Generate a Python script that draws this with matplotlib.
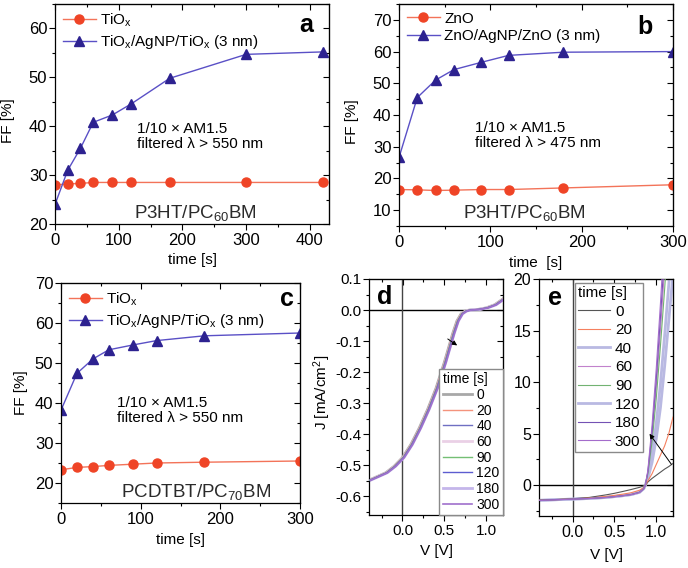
import numpy as np
import matplotlib
matplotlib.use('Agg')
import matplotlib.pyplot as plt
from matplotlib.ticker import MultipleLocator

plt.rcParams['font.family'] = ['Liberation Sans', 'DejaVu Sans']
plt.rcParams['mathtext.fontset'] = 'custom'
plt.rcParams['mathtext.rm'] = 'Liberation Sans'
plt.rcParams['mathtext.it'] = 'Liberation Sans:italic'
plt.rcParams['mathtext.bf'] = 'Liberation Sans:bold'
plt.rcParams['axes.unicode_minus'] = False

# ---- panel a: P3HT/PC60BM, TiOx ----
TIME_A = [0, 20, 40, 60, 90, 120, 180, 300, 420]
FF_A_TIOX = [28.0, 28.2, 28.3, 28.5, 28.5, 28.5, 28.5, 28.5, 28.5]
FF_A_AGNP = [24.0, 31.0, 35.5, 40.8, 42.3, 44.6, 49.8, 54.7, 55.2]

# ---- panels b, c ----
TIME_BC = [0, 20, 40, 60, 90, 120, 180, 300]
FF_B_ZNO = [16.5, 16.4, 16.2, 16.3, 16.5, 16.5, 17.0, 18.0]
FF_B_AGNP = [26.6, 45.5, 51.0, 54.3, 56.6, 58.8, 59.8, 60.0]
FF_C_TIOX = [23.3, 23.9, 24.1, 24.4, 24.7, 25.0, 25.2, 25.5]
FF_C_AGNP = [38.2, 47.4, 51.0, 53.3, 54.5, 55.6, 56.8, 57.5]

# ---- panel d: J-V under filtered light ----
TIMES = ['0', '20', '40', '60', '90', '120', '180', '300']
V_D = [-0.4, -0.3, -0.2, -0.1, 0.0, 0.1, 0.2, 0.3, 0.4, 0.5, 0.6, 0.65, 0.7,
       0.75, 0.8, 0.9, 1.0, 1.1, 1.2]
J_D = [-0.548, -0.536, -0.524, -0.503, -0.475, -0.433, -0.38, -0.32, -0.252,
       -0.168, -0.075, -0.035, -0.012, -0.003, 0.0, 0.002, 0.007, 0.017, 0.036]
V_SHIFT_D = [0.0, 0.004, 0.008, 0.010, 0.013, 0.016, 0.018, 0.021]

# ---- panel e: J-V full range ----
V_E = [-0.4, -0.2, 0.0, 0.2, 0.4, 0.5, 0.6, 0.7, 0.8, 0.85, 0.87,
       0.9, 0.95, 1.0, 1.05, 1.1, 1.15, 1.2]
J_E_0 = [-1.45, -1.40, -1.33, -1.20, -0.95, -0.80, -0.62, -0.43, -0.22, -0.08, 0.0,
         0.3, 0.65, 0.95, 1.25, 1.55, 1.8, 2.1]
J_E_20 = [-1.47, -1.41, -1.35, -1.26, -1.10, -1.00, -0.88, -0.74, -0.50, -0.25, 0.0,
          0.4, 1.1, 2.0, 2.9, 3.8, 5.0, 6.6]
J_E_40 = [-1.48, -1.42, -1.36, -1.30, -1.20, -1.12, -1.03, -0.92, -0.70, -0.35, 0.0,
          0.6, 2.2, 4.5, 7.5, 11.5, 16.0, 20.5]
J_E_60 = [-1.48, -1.42, -1.36, -1.30, -1.20, -1.12, -1.03, -0.92, -0.70, -0.35, 0.0,
          1.2, 4.8, 9.5, 15.0, 21.0, 27.0, 33.0]
J_E_90 = [-1.48, -1.42, -1.36, -1.30, -1.20, -1.12, -1.03, -0.92, -0.70, -0.35, 0.0,
          1.1, 4.2, 8.4, 13.5, 19.0, 25.0, 31.0]
J_E_120 = [-1.48, -1.42, -1.36, -1.30, -1.20, -1.12, -1.03, -0.92, -0.70, -0.35, 0.0,
           0.8, 3.0, 6.0, 9.8, 14.5, 19.5, 25.0]
J_E_180 = [-1.48, -1.42, -1.36, -1.30, -1.20, -1.12, -1.03, -0.92, -0.70, -0.35, 0.0,
           1.3, 5.2, 10.3, 16.3, 22.5, 29.0, 35.0]
J_E_300 = [-1.49, -1.43, -1.37, -1.31, -1.21, -1.13, -1.04, -0.93, -0.72, -0.36, 0.0,
           1.45, 5.8, 11.3, 17.6, 24.5, 31.0, 38.0]
J_E = [J_E_0, J_E_20, J_E_40, J_E_60, J_E_90, J_E_120, J_E_180, J_E_300]

# styles
RED = '#ef4426'
RED_LINE = '#f37359'
BLUE = '#2d2290'
BLUE_LINE = '#5a50c6'
D_COLORS = ['#a8a8a8', '#f4937c', '#6f6fc2', '#ead0e6', '#74bf74', '#5c5cd0', '#c4b6ea', '#a070cc']
D_WIDTHS = [2.0, 1.0, 1.0, 2.0, 1.0, 1.0, 2.0, 1.2]
E_COLORS = ['#555555', '#f5805f', '#b9b9e2', '#c282cc', '#72b372', '#b9b9e2', '#7452b4', '#a46ccb']
E_WIDTHS = [0.8, 0.8, 2.0, 0.8, 0.8, 2.0, 0.8, 0.8]

W, H = 688, 568


def _rect(left, top, right, bottom):
    return [left / W, 1 - bottom / H, (right - left) / W, (bottom - top) / H]


def _origin_ticks(ax, xmaj, xmin, ymaj, ymin, labelsize=12):
    ax.xaxis.set_major_locator(MultipleLocator(xmaj))
    ax.xaxis.set_minor_locator(MultipleLocator(xmin))
    ax.yaxis.set_major_locator(MultipleLocator(ymaj))
    ax.yaxis.set_minor_locator(MultipleLocator(ymin))
    ax.tick_params(which='both', direction='out', top=False, right=False,
                   labelsize=labelsize, width=0.8)
    ax.tick_params(axis='x', which='major', length=4, pad=2.5)
    ax.tick_params(axis='y', which='major', length=4, pad=1.5)
    ax.tick_params(which='minor', length=2.5)
    # mirrored axes with inward ticks
    sx = ax.secondary_xaxis('top')
    sx.xaxis.set_major_locator(MultipleLocator(xmaj))
    sx.xaxis.set_minor_locator(MultipleLocator(xmin))
    sx.tick_params(which='both', direction='in', labeltop=False, width=0.8)
    sx.tick_params(which='major', length=4)
    sx.tick_params(which='minor', length=2.5)
    sy = ax.secondary_yaxis('right')
    sy.yaxis.set_major_locator(MultipleLocator(ymaj))
    sy.yaxis.set_minor_locator(MultipleLocator(ymin))
    sy.tick_params(which='both', direction='in', labelright=False, width=0.8)
    sy.tick_params(which='major', length=4)
    sy.tick_params(which='minor', length=2.5)
    for sp in ax.spines.values():
        sp.set_linewidth(0.9)


def _ff_panel(ax, t, ff_ref, ff_ag, lab_ref, lab_ag):
    ax.plot(t, ff_ref, '-', color=RED_LINE, lw=1.0, marker='o', ms=6.5,
            mfc=RED, mec=RED, label=lab_ref)
    ax.plot(t, ff_ag, '-', color=BLUE_LINE, lw=1.0, marker='^', ms=7,
            mfc=BLUE, mec=BLUE, label=lab_ag)
    ax.legend(loc='upper left', bbox_to_anchor=(0.0, 1.0), frameon=False,
              fontsize=11, handlelength=2.2, handletextpad=0.25,
              labelspacing=0.25, borderaxespad=0.2, borderpad=0.3)


fig = plt.figure(figsize=(W / 100, H / 100), dpi=100)

# ---------- a ----------
ax = fig.add_axes(_rect(55, 4, 329, 224))
_ff_panel(ax, TIME_A, FF_A_TIOX, FF_A_AGNP, r'TiO$_\mathrm{x}$',
          r'TiO$_\mathrm{x}$/AgNP/TiO$_\mathrm{x}$ (3 nm)')
ax.set_xlim(0, 430)
ax.set_ylim(20, 65)
_origin_ticks(ax, 100, 50, 10, 5)
ax.set_xlabel('time [s]', fontsize=11)
ax.xaxis.set_label_coords(0.5, -0.13)
ax.set_ylabel('FF [%]', fontsize=11)
ax.yaxis.set_label_coords(-0.145, 0.47)
ax.text(0.30, 0.465, '1/10 \u00d7 AM1.5\nfiltered \u03bb > 550 nm', transform=ax.transAxes,
        fontsize=11, va='top', ha='left', linespacing=1.1)
ax.text(0.511, 0.027, r'P3HT/PC$_\mathrm{60}$BM', transform=ax.transAxes,
        fontsize=13.5, ha='center', va='baseline', color='#2a2a2a')
ax.text(0.916, 0.905, 'a', transform=ax.transAxes, fontsize=18, fontweight='bold',
        ha='center', va='center')

# ---------- b ----------
ax = fig.add_axes(_rect(399, 4, 673, 226))
_ff_panel(ax, TIME_BC, FF_B_ZNO, FF_B_AGNP, 'ZnO', 'ZnO/AgNP/ZnO (3 nm)')
ax.set_xlim(0, 300)
ax.set_ylim(5, 75)
_origin_ticks(ax, 100, 50, 10, 5)
ax.set_xlabel('time  [s]', fontsize=11)
ax.xaxis.set_label_coords(0.5, -0.135)
ax.set_ylabel('FF [%]', fontsize=11)
ax.yaxis.set_label_coords(-0.145, 0.47)
ax.text(0.277, 0.475, '1/10 \u00d7 AM1.5\nfiltered \u03bb > 475 nm', transform=ax.transAxes,
        fontsize=11, va='top', ha='left', linespacing=1.1)
ax.text(0.459, 0.036, r'P3HT/PC$_\mathrm{60}$BM', transform=ax.transAxes,
        fontsize=13.5, ha='center', va='baseline', color='#2a2a2a')
ax.text(0.898, 0.896, 'b', transform=ax.transAxes, fontsize=18, fontweight='bold',
        ha='center', va='center')

# ---------- c ----------
ax = fig.add_axes(_rect(61, 283, 300, 503))
_ff_panel(ax, TIME_BC, FF_C_TIOX, FF_C_AGNP, r'TiO$_\mathrm{x}$',
          r'TiO$_\mathrm{x}$/AgNP/TiO$_\mathrm{x}$ (3 nm)')
ax.set_xlim(0, 300)
ax.set_ylim(15, 70)
_origin_ticks(ax, 100, 50, 10, 5)
ax.set_xlabel('time [s]', fontsize=11)
ax.xaxis.set_label_coords(0.5, -0.136)
ax.set_ylabel('FF [%]', fontsize=11)
ax.yaxis.set_label_coords(-0.138, 0.5)
ax.text(0.234, 0.485, '1/10 \u00d7 AM1.5\nfiltered \u03bb > 550 nm', transform=ax.transAxes,
        fontsize=11, va='top', ha='left', linespacing=1.1)
ax.text(0.565, 0.026, r'PCDTBT/PC$_\mathrm{70}$BM', transform=ax.transAxes,
        fontsize=13.5, ha='center', va='baseline', color='#2a2a2a')
ax.text(0.946, 0.927, 'c', transform=ax.transAxes, fontsize=18, fontweight='bold',
        ha='center', va='center')

# ---------- d ----------
ax = fig.add_axes(_rect(369, 279, 503, 515))
ax.axhline(0, color='black', lw=1.0, zorder=1)
ax.axvline(0, color='#444444', lw=1.0, zorder=1)
vd = np.array(V_D)
for lab, dv, c, lw in zip(TIMES, V_SHIFT_D, D_COLORS, D_WIDTHS):
    ax.plot(vd + dv, J_D, color=c, lw=lw, label=lab, zorder=3 if lw < 1.5 else 2)
ax.set_xlim(-0.4, 1.2)
ax.set_ylim(-0.66, 0.1)
_origin_ticks(ax, 0.5, 0.25, 0.1, 0.05, labelsize=11)
ax.set_xlabel('V [V]', fontsize=11)
ax.xaxis.set_label_coords(0.505, -0.122)
ax.set_ylabel('J [mA/cm$^2$]', fontsize=11)
ax.yaxis.set_label_coords(-0.27, 0.52)
ax.annotate('', xy=(0.68, -0.119), xytext=(0.513, -0.088),
            arrowprops=dict(arrowstyle='-|>', color='black', lw=0.7,
                            mutation_scale=7))
ax.text(0.119, 0.924, 'd', transform=ax.transAxes, fontsize=18, fontweight='bold',
        ha='center', va='center')
leg = ax.legend(loc='lower right', bbox_to_anchor=(1.0, 0.0), fontsize=10,
                title='time [s]', title_fontsize=10, alignment='left',
                handlelength=2.1, handletextpad=0.3, labelspacing=0.12,
                borderpad=0.25, borderaxespad=0.0, fancybox=False,
                edgecolor='#8a8a8a', framealpha=1.0)
leg.get_frame().set_linewidth(1.0)

# ---------- e ----------
ax = fig.add_axes(_rect(539, 279, 673, 516))
ax.axhline(0, color='black', lw=1.0, zorder=1)
ax.axvline(0, color='#444444', lw=1.0, zorder=1)
for lab, j, c, lw in zip(TIMES, J_E, E_COLORS, E_WIDTHS):
    ax.plot(V_E, j, color=c, lw=lw, label=lab, zorder=3 if lw < 1.5 else 2)
ax.set_xlim(-0.4, 1.2)
ax.set_ylim(-3, 20)
_origin_ticks(ax, 0.5, 0.25, 5, 2.5, labelsize=11.5)
ax.set_xlabel('V [V]', fontsize=11)
ax.xaxis.set_label_coords(0.505, -0.134)
ax.annotate('', xy=(0.9, 5.2), xytext=(1.2, 1.8),
            arrowprops=dict(arrowstyle='-|>', color='black', lw=0.7,
                            mutation_scale=7), annotation_clip=False)
ax.text(0.119, 0.92, 'e', transform=ax.transAxes, fontsize=18, fontweight='bold',
        ha='center', va='center')
leg = ax.legend(loc='upper left', bbox_to_anchor=(0.27, 0.983), fontsize=11,
                title='time [s]', title_fontsize=11, alignment='left',
                handlelength=2.1, handletextpad=0.3, labelspacing=0.3,
                borderpad=0.2, borderaxespad=0.0, fancybox=False,
                edgecolor='#8a8a8a', framealpha=1.0)
leg.get_frame().set_linewidth(1.0)

fig.savefig('out.png', dpi=100)
